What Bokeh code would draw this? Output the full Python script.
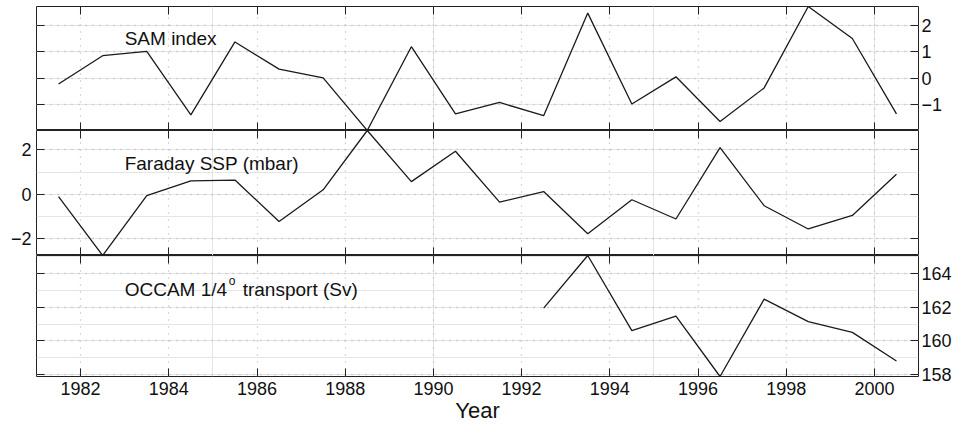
from bokeh.plotting import figure
from bokeh.models import Range1d, LinearAxis, FixedTicker, Grid, Label
from bokeh.layouts import column
from bokeh.embed import file_html
from bokeh.resources import INLINE

# ---------------- data ----------------
years = [1981.5, 1982.5, 1983.5, 1984.5, 1985.5, 1986.5, 1987.5, 1988.5, 1989.5, 1990.5,
         1991.5, 1992.5, 1993.5, 1994.5, 1995.5, 1996.5, 1997.5, 1998.5, 1999.5, 2000.5]
sam_index = [-0.21, 0.86, 1.02, -1.38, 1.38, 0.35, 0.02, -1.97, 1.20, -1.34,
             -0.91, -1.41, 2.47, -0.97, 0.06, -1.63, -0.36, 2.72, 1.51, -1.34]
faraday_ssp = [-0.11, -2.77, -0.06, 0.60, 0.64, -1.23, 0.20, 2.88, 0.57, 1.94,
               -0.36, 0.12, -1.79, -0.25, -1.12, 2.11, -0.52, -1.57, -0.96, 0.90]
occam_years = [1992.5, 1993.5, 1994.5, 1995.5, 1996.5, 1997.5, 1998.5, 1999.5, 2000.5]
occam_transport = [161.94, 165.05, 160.61, 161.47, 157.90, 162.47, 161.14, 160.51, 158.82]

x_ticks = [1982, 1984, 1986, 1988, 1990, 1992, 1994, 1996, 1998, 2000]
sam_ticks = [-1, 0, 1, 2]
faraday_ticks = [-2, 0, 2]
occam_ticks = [158, 160, 162, 164]

sam_title = "SAM index"
faraday_title = "Faraday SSP (mbar)"
occam_title_a = "OCCAM 1/4"
occam_title_sup = "o"
occam_title_b = "transport (Sv)"
x_title = "Year"

# ---------------- style ----------------
FONT = "Liberation Sans"
W = 954
LB, RB = 36, 33
GRID_COLOR = "#b4b4b4"
TICK = 8


def label_axis(ticks, overrides=None, standoff=3):
    """Axis with inward ticks and labels."""
    ax = LinearAxis(ticker=FixedTicker(ticks=ticks, minor_ticks=[]),
                    major_tick_in=TICK, major_tick_out=0,
                    minor_tick_in=0, minor_tick_out=0,
                    axis_line_color=None,
                    major_tick_line_color="#222222", major_tick_line_width=1,
                    major_label_text_font=FONT, major_label_text_font_size="18px",
                    major_label_text_color="#111111",
                    major_label_standoff=standoff)
    if overrides:
        ax.major_label_overrides = overrides
    return ax


def tick_axis(ticks):
    """Axis that shows only inward tick marks (ticks used as minor ticks: no labels)."""
    return LinearAxis(ticker=FixedTicker(ticks=[], minor_ticks=ticks),
                      major_tick_in=0, major_tick_out=0,
                      minor_tick_in=TICK, minor_tick_out=0,
                      minor_tick_line_color="#222222", minor_tick_line_width=1,
                      axis_line_color=None, major_label_standoff=0,
                      major_label_text_font_size="1px")


def make_panel(yr, yticks, label_side, height, top_b, overrides=None, bottom_axis=None):
    p = figure(width=W, height=height,
               x_range=Range1d(1981, 2001), y_range=Range1d(*yr),
               x_axis_location=None, y_axis_location=None,
               output_backend="svg", toolbar_location=None,
               min_border_left=LB, min_border_right=RB,
               min_border_top=top_b, min_border_bottom=0)
    p.outline_line_color = "#222222"
    p.outline_line_width = 1.0
    p.background_fill_color = "white"
    p.border_fill_color = "white"
    p.add_layout(Grid(dimension=0, ticker=FixedTicker(ticks=x_ticks),
                      grid_line_color=GRID_COLOR, grid_line_dash="1 6", grid_line_width=1.3), "center")
    p.add_layout(Grid(dimension=1, ticker=FixedTicker(ticks=yticks),
                      grid_line_color=GRID_COLOR, grid_line_dash="1 6", grid_line_width=1.3), "center")
    if label_side == "left":
        p.add_layout(label_axis(yticks, overrides, standoff=5), "left")
        p.add_layout(tick_axis(yticks), "right")
    else:
        p.add_layout(tick_axis(yticks), "left")
        p.add_layout(label_axis(yticks, overrides, standoff=3), "right")
    p.add_layout(tick_axis(x_ticks), "above")
    p.add_layout(bottom_axis if bottom_axis is not None else tick_axis(x_ticks), "below")
    return p


minus = {-1: "\u22121", -2: "\u22122"}

H1, H2 = 130, 125
p1 = make_panel((-1.97, 2.72), sam_ticks, "right", H1, 6, overrides=minus)
p1.line(years, sam_index, line_color="#1a1a1a", line_width=1.3)
p1.add_layout(Label(x=1983.0, y=1.51, text=sam_title, text_font=FONT,
                    text_font_size="19px", text_baseline="alphabetic", text_color="#111111"))

p2 = make_panel((-2.77, 2.88), faraday_ticks, "left", H2, 0, overrides=minus)
p2.line(years, faraday_ssp, line_color="#1a1a1a", line_width=1.3)
p2.add_layout(Label(x=1983.0, y=1.39, text=faraday_title, text_font=FONT,
                    text_font_size="19px", text_baseline="alphabetic", text_color="#111111"))

xaxis = label_axis(x_ticks, standoff=5)
xaxis.axis_label = x_title
xaxis.axis_label_text_font = FONT
xaxis.axis_label_text_font_size = "22px"
xaxis.axis_label_text_font_style = "normal"
xaxis.axis_label_standoff = 0
xaxis.axis_label_text_color = "#111111"

p3 = make_panel((157.9, 165.05), occam_ticks, "right", 425 - H1 - H2, 0, bottom_axis=xaxis)
p3.line(occam_years, occam_transport, line_color="#1a1a1a", line_width=1.3)
p3.add_layout(Label(x=1983.0, y=163.05, text=occam_title_a, text_font=FONT,
                    text_font_size="19px", text_baseline="alphabetic", text_color="#111111"))
p3.add_layout(Label(x=1983.0, y=163.55, x_offset=104, text=occam_title_sup, text_font=FONT,
                    text_font_size="12px", text_baseline="alphabetic", text_color="#111111"))
p3.add_layout(Label(x=1983.0, y=163.05, x_offset=118, text=occam_title_b, text_font=FONT,
                    text_font_size="19px", text_baseline="alphabetic", text_color="#111111"))

layout = column(p1, p2, p3, spacing=0)

open("out.html", "w").write(file_html(layout, INLINE))
